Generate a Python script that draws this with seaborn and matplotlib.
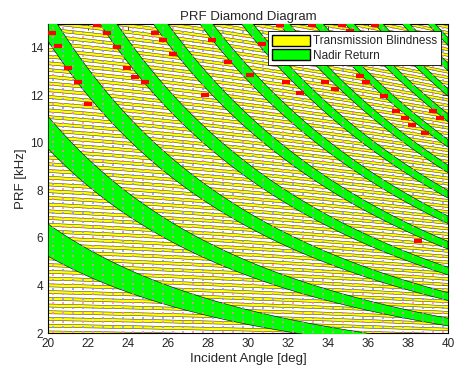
import numpy as np
import matplotlib
matplotlib.use("Agg")
import matplotlib.pyplot as plt
import seaborn as sns
from matplotlib.patches import Patch

sns.set_style("white")
plt.rcParams['font.family'] = ['Liberation Sans', 'DejaVu Sans']

# ---- system / geometry values ----
angle_range = [20, 40]              # incident angle [deg]
prf_range = [2, 15]                 # kHz
orbit_height_km = [500.0]
earth_radius_km = [6371.0]
blind_duty = [0.45]                 # fraction of PRI blocked by transmission
blind_orders = list(range(1, 80))
nadir_T0_ms = [0.032]
nadir_K_ms = [2.95]
nadir_offsets = [0.16, 0.46]
nadir_orders = list(range(1, 30))
# red markers (angle deg, PRF kHz)
red_angle = [22.43, 20.18, 22.93, 25.35, 20.5, 23.43, 25.77, 26.27, 21.0, 23.93, 24.35, 21.5, 24.85, 22.0,
             31.6, 33.2, 34.7, 36.35, 35.1, 31.9, 33.85, 35.6, 35.9, 34.35, 36.8, 32.6,
             37.4, 39.27, 37.85, 39.6, 38.2, 38.85, 38.5,
             28.2, 30.7, 29.0, 30.1, 27.85]
red_prf = [14.94, 14.64, 14.64, 14.64, 14.08, 14.05, 14.34, 13.75, 13.15, 13.15, 12.79, 12.56, 12.56, 11.63,
           14.97, 14.97, 14.97, 14.97, 14.7, 12.58, 12.58, 12.8, 12.54, 12.26, 11.95, 12.1,
           11.32, 11.32, 11.04, 11.04, 10.73, 10.41, 5.89,
           14.34, 14.17, 13.4, 12.86, 12.0]
tick_x = list(range(20, 41, 2))
tick_y = list(range(2, 15, 2))

c = 299792.458  # km/s

theta = np.linspace(angle_range[0], angle_range[1], 400)
eta = np.radians(theta)
H = orbit_height_km[0]
Re = earth_radius_km[0]
sin_l = Re * np.sin(eta) / (Re + H)
R = (Re + H) * np.sqrt(1 - sin_l**2) - np.sqrt(Re**2 - (Re + H)**2 * sin_l**2)
tau_ms = 2 * R / c * 1e3  # ms -> PRF in kHz = n / tau_ms

fig = plt.figure(figsize=(4.58, 3.73), dpi=100)
ax = fig.add_axes([48/458, 1-333/373, 400/458, 309/373])

# dotted grid of evaluation points
gx = np.arange(20.25, 40, 0.5)
gy = np.arange(2.05, 15, 0.2)
GX, GY = np.meshgrid(gx, gy)
cols = np.where((np.arange(GY.shape[0]) % 2)[:, None] == 0, '#ff7fbf', '#8f8fff')
cols = np.broadcast_to(cols, GX.shape)
ax.scatter(GX.ravel(), GY.ravel(), s=2.0, c=cols.ravel(), marker='s', linewidths=0, zorder=5, alpha=0.8)

for n in blind_orders:
    lo = n / tau_ms
    hi = (n + blind_duty[0]) / tau_ms
    if lo.min() > prf_range[1] + 1:
        break
    ax.fill_between(theta, lo, hi, facecolor='#ffff00', edgecolor='#303000', linewidth=0.35, zorder=2)

Tn = nadir_T0_ms[0] + nadir_K_ms[0] * (1 / np.cos(eta) - 1)
for m in nadir_orders:
    lo = (m + nadir_offsets[0]) / Tn
    hi = (m + nadir_offsets[1]) / Tn
    ax.fill_between(theta, lo, hi, facecolor='#00ff00', edgecolor='black', linewidth=0.4, zorder=3)

ax.errorbar(red_angle, red_prf, xerr=0.2, fmt='none', ecolor='red', elinewidth=3, capsize=0, zorder=6)

ax.set_xlim(angle_range)
ax.set_ylim(prf_range)
ax.set_xticks(tick_x)
ax.set_yticks(tick_y)
ax.tick_params(direction='in', length=4, labelsize=8.5, top=True, right=True, width=0.6)
for s in ax.spines.values():
    s.set_linewidth(0.8)
    s.set_color('black')
ax.set_xlabel('Incident Angle [deg]', fontsize=9.5, labelpad=2)
ax.set_ylabel('PRF [kHz]', fontsize=9.5, labelpad=2)
ax.set_title('PRF Diamond Diagram', fontsize=9.5, pad=3)

handles = [Patch(facecolor='#ffff00', edgecolor='black', label='Transmission Blindness'),
           Patch(facecolor='#00ff00', edgecolor='black', label='Nadir Return')]
leg = ax.legend(handles=handles, loc='upper right', fontsize=8.5, frameon=True, fancybox=False,
                framealpha=1, edgecolor='black', borderpad=0.3, handlelength=3.2, handleheight=1.1,
                handletextpad=0.3, labelspacing=0.15, borderaxespad=0.6)
leg.get_frame().set_linewidth(0.6)
leg.set_zorder(10)

fig.savefig('out.png', dpi=100)
